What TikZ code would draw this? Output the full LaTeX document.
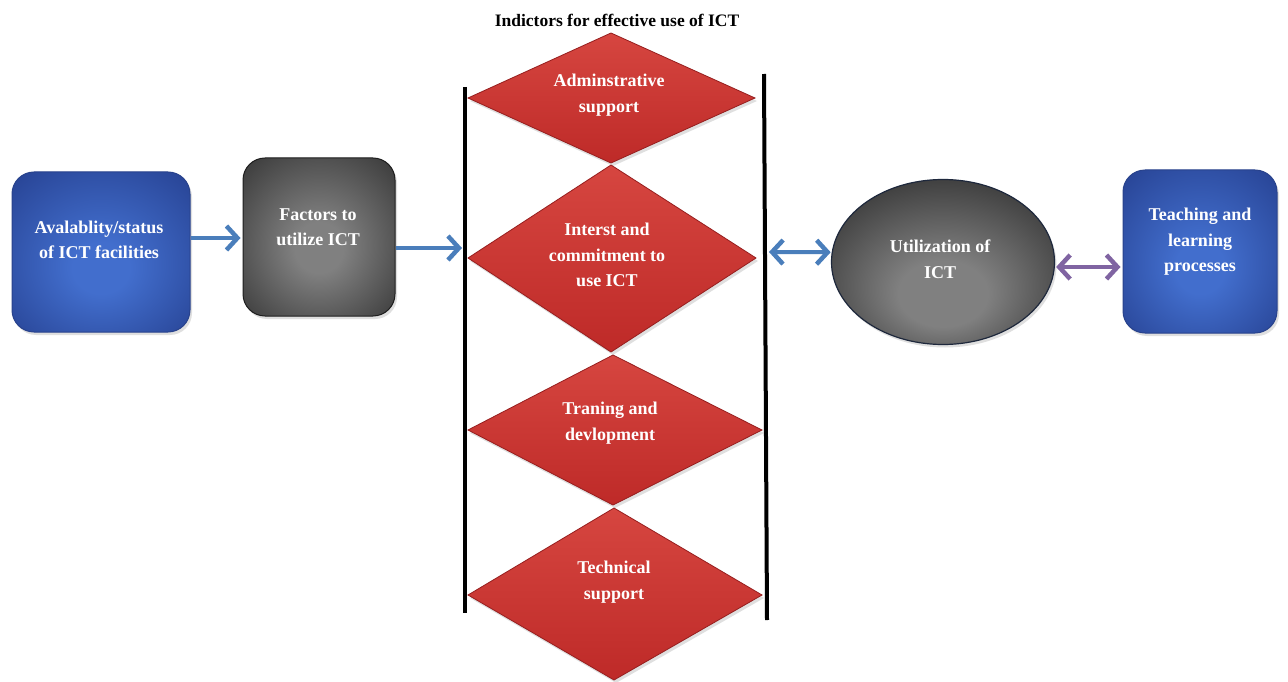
\documentclass[tikz,border=0pt]{standalone}
\usepackage{fontspec}
\setmainfont{Liberation Serif}
\usetikzlibrary{arrows.meta,shapes.geometric,shadows}
\definecolor{bluein}{RGB}{66,110,205}
\definecolor{blueout}{RGB}{30,52,128}
\definecolor{grayin}{RGB}{128,128,128}
\definecolor{grayout}{RGB}{32,32,32}
\definecolor{redtop}{RGB}{214,70,64}
\definecolor{redbot}{RGB}{190,42,40}
\definecolor{redline}{RGB}{150,30,30}
\definecolor{arrblue}{RGB}{74,126,187}
\definecolor{arrpurple}{RGB}{128,100,162}
\pgfdeclareradialshading{bluerad}{\pgfpoint{0bp}{-6bp}}{color(0bp)=(bluein); color(8bp)=(bluein); color(46bp)=(blueout); color(50bp)=(blueout)}
\pgfdeclareradialshading{grayrad}{\pgfpoint{0bp}{-4bp}}{color(0bp)=(grayin); color(8bp)=(grayin); color(46bp)=(grayout); color(50bp)=(grayout)}
\pgfdeclareradialshading{ellrad}{\pgfpoint{0bp}{-12bp}}{color(0bp)=(grayin); color(10bp)=(grayin); color(40bp)=(grayout); color(50bp)=(grayout)}
\tikzset{
  softshadow/.style={drop shadow={shadow xshift=2pt, shadow yshift=-3pt, opacity=0.25}},
  bluebox/.style={rectangle, rounded corners=22pt, draw={rgb,255:red,40;green,66;blue,140}, line width=1pt, shading=bluerad, softshadow},
  graybox/.style={rectangle, rounded corners=22pt, draw={rgb,255:red,30;green,30;blue,30}, line width=1pt, shading=grayrad, softshadow},
  ellnode/.style={ellipse, draw={rgb,255:red,30;green,40;blue,60}, line width=1.2pt, shading=ellrad, softshadow},
  diam/.style={draw=redline, line width=0.8pt, top color=redtop, bottom color=redbot, softshadow},
  lbl/.style={text=white, font=\bfseries\fontsize{18}{25.5}\selectfont, align=center, inner sep=0pt},
  titlelbl/.style={text=black, font=\bfseries\fontsize{17.5}{21}\selectfont, inner sep=0pt},
  barline/.style={line width=4pt, black},
  tipb/.tip={Straight Barb[length=11pt,width=24pt,line width=4.5pt]},
  blarrow/.style={line width=4pt, arrblue, -tipb},
  bdarrow/.style={line width=4pt, arrblue, tipb-tipb},
  pdarrow/.style={line width=4pt, arrpurple, tipb-tipb}
}
\begin{document}
\begin{tikzpicture}[x=1pt,y=-1pt]
\useasboundingbox (0,0) rectangle (1288,682);
\fill[white] (0,0) rectangle (1288,682);

% title
\node[titlelbl] (title) at (617,20) {Indictors for effective use of ICT};

% vertical bars
\coordinate (lt) at (465,87);
\coordinate (lb) at (465,613);
\coordinate (rt) at (764,74);
\coordinate (rb) at (767,620);
\draw[barline] (lt) -- (lb);
\draw[barline] (rt) -- (rb);

% diamonds
\path[diam] (611,33) -- (755,98) -- (611,163) -- (468,98) -- cycle;
\path[diam] (611,165) -- (756,258) -- (611,352) -- (468,258) -- cycle;
\path[diam] (613,355) -- (762,430) -- (613,505) -- (468,430) -- cycle;
\path[diam] (614,508) -- (762,595) -- (614,680) -- (468,595) -- cycle;
\node[lbl] (d1) at (609,95) {Adminstrative\\support};
\node[lbl] (d2) at (607,255) {Interst and\\commitment to\\use ICT};
\node[lbl] (d3) at (610,423) {Traning and\\devlopment};
\node[lbl] (d4) at (614,582) {Technical\\support};

% boxes
\node[bluebox, minimum width=178pt, minimum height=160pt] (avail) at (101,252) {};
\node[lbl] (availt) at (99,240) {Avalablity/status\\of ICT facilities};
\node[graybox, minimum width=152pt, minimum height=158pt] (factors) at (319,237) {};
\node[lbl] (factorst) at (318,227) {Factors to\\utilize ICT};
\node[ellnode, minimum width=223pt, minimum height=165pt] (util) at (943,262) {};
\node[lbl] (utilt) at (940,259) {Utilization of\\ICT};
\node[bluebox, minimum width=154pt, minimum height=163pt] (teach) at (1200,251.5) {};
\node[lbl] (teacht) at (1200,242) {Teaching and\\learning\\processes};

% connectors
\coordinate (la) at (462,248);
\coordinate (ra) at (769,252);
\draw[blarrow, shorten >=2pt] ([yshift=14pt]avail.east) -- ([yshift=-1pt]factors.west);
\draw[blarrow] ([yshift=-11pt]factors.east) -- (la);
\draw[bdarrow, shorten >=1pt] (ra) -- (util.175);
\draw[pdarrow, shorten <=1pt, shorten >=2pt] ([yshift=-5pt]util.east) -- ([yshift=-15.5pt]teach.west);
\end{tikzpicture}
\end{document}
